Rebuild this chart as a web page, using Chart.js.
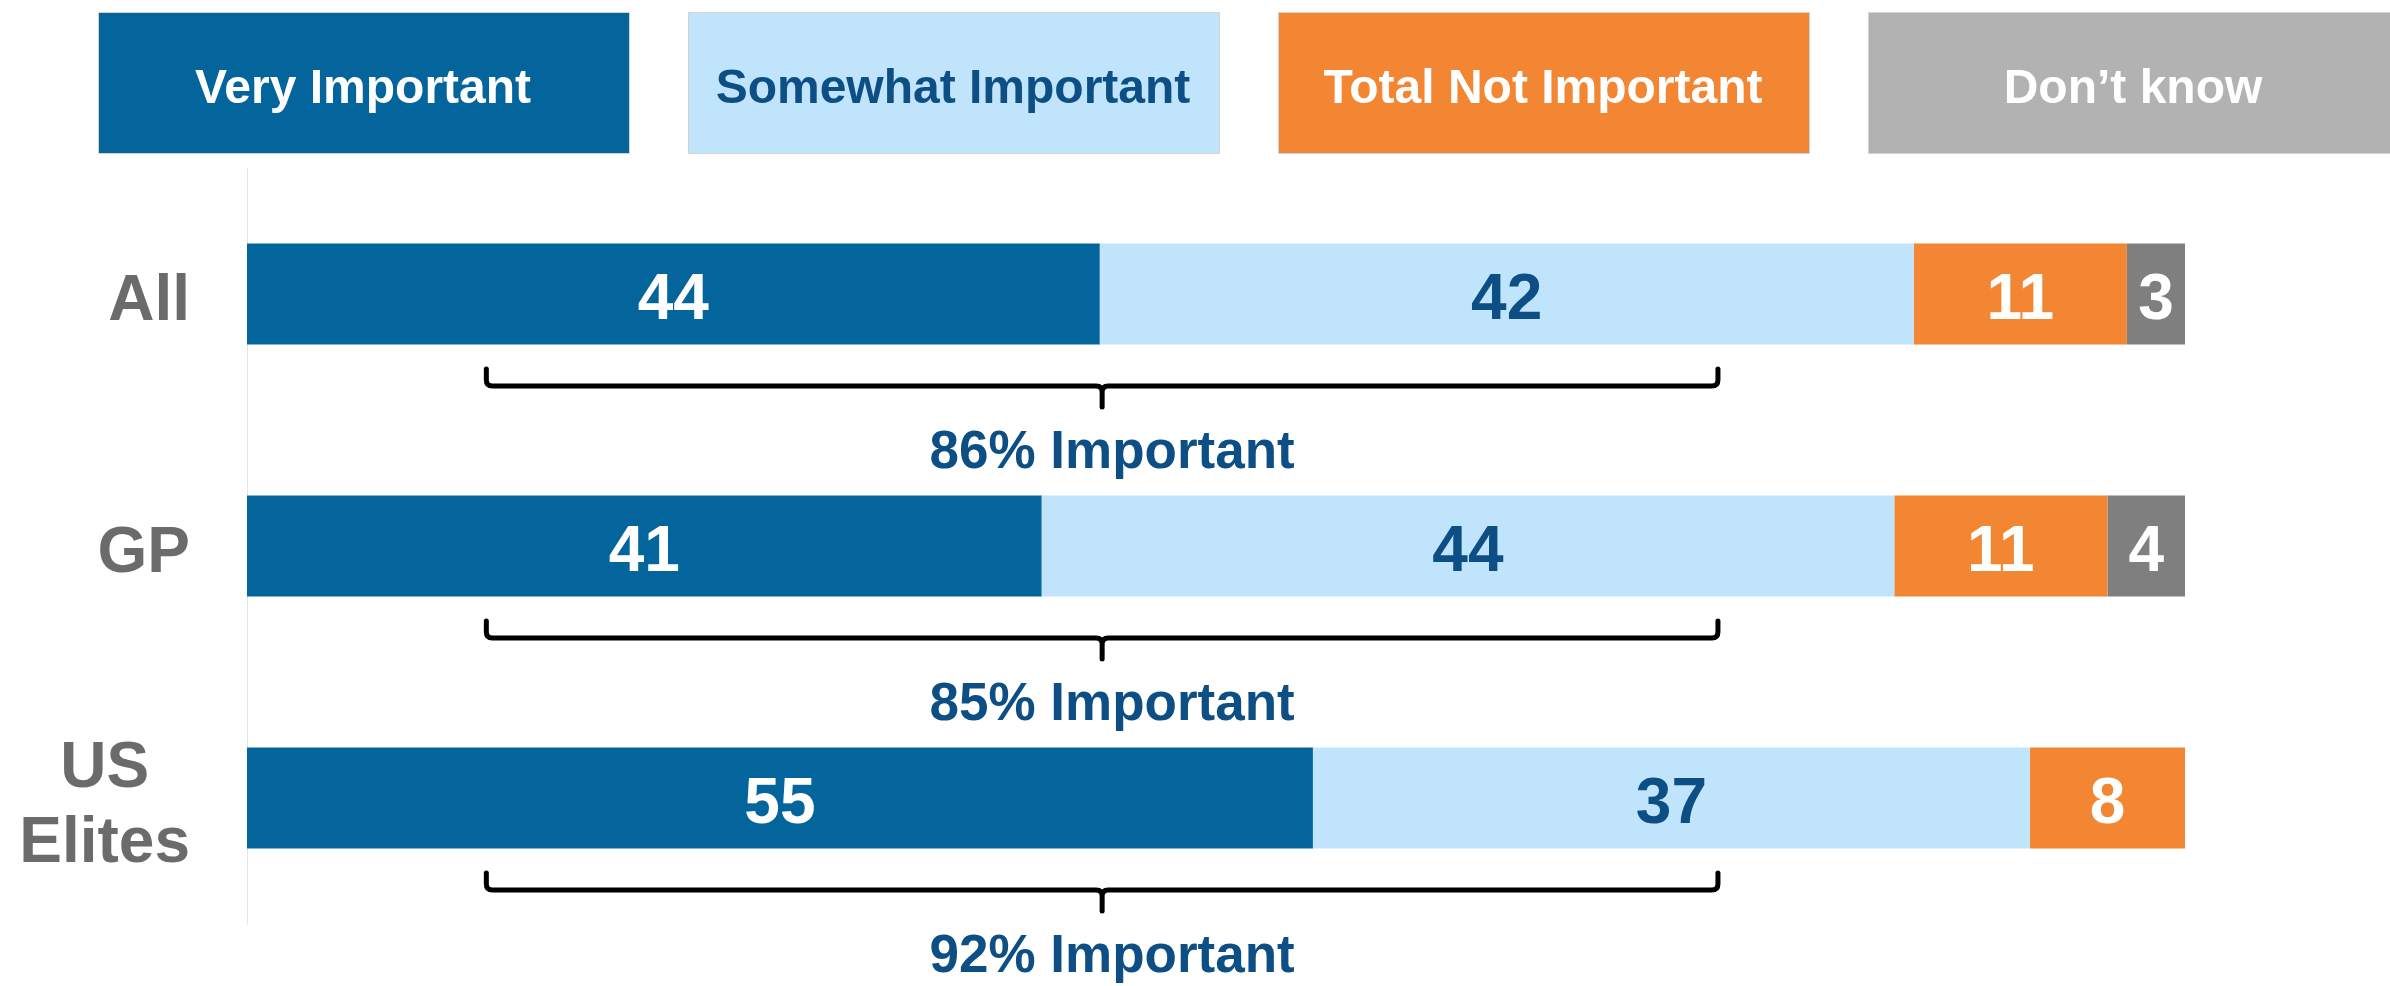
<!DOCTYPE html>
<html>
<head>
<meta charset="utf-8">
<script src="https://cdn.jsdelivr.net/npm/chart.js@4/dist/chart.umd.min.js"></script>
<style>
  html, body { margin: 0; background: #fff; }
  #wrap { width: 2390px; height: 986px; }
</style>
</head>
<body>
<div id="wrap"><canvas id="chart"></canvas></div>
<script>
const categories = [['All'], ['GP'], ['US', 'Elites']];
const seriesNames = ['Very Important', 'Somewhat Important', 'Total Not Important', 'Don’t know'];
const veryImportant = [44, 41, 55];
const somewhatImportant = [42, 44, 37];
const notImportant = [11, 11, 8];
const dontKnow = [3, 4, null];
// brace spans this range of the value axis under each bar
const braceFrom = 12.35;
const braceTo = 75.9;

const FONT = '"Liberation Sans", Arial, sans-serif';
const fills = ['#03659b', '#bfe4fb', '#f28633', '#7f7f7f'];
const legendFills = ['#03659b', '#bfe4fb', '#f28633', '#b2b2b2'];
const textColors = ['#ffffff', '#0d4f85', '#ffffff', '#ffffff'];

const seriesValues = [veryImportant, somewhatImportant, notImportant, dontKnow];

const legendBoxes = {
    id: 'legendBoxes',
    afterDraw(chart) {
        const ctx = chart.ctx;
        ctx.save();
        ctx.font = 'bold 48px ' + FONT;
        ctx.textAlign = 'center';
        ctx.textBaseline = 'alphabetic';
        seriesNames.forEach((name, i) => {
            const x = 98 + i * 590;
            ctx.fillStyle = legendFills[i];
            ctx.fillRect(x, 12, 531, 141);
            ctx.strokeStyle = '#d4d4d4';
            ctx.lineWidth = 1;
            ctx.strokeRect(x + 0.5, 12.5, 531, 141);
            ctx.fillStyle = textColors[i];
            ctx.fillText(name, x + 265, 103);
        });
        ctx.restore();
    },
};

const categoryLabels = {
    id: 'categoryLabels',
    afterDraw(chart) {
        const ctx = chart.ctx;
        const y = chart.scales.y;
        ctx.save();
        ctx.font = 'bold 64px ' + FONT;
        ctx.fillStyle = '#6b6b6b';
        ctx.textBaseline = 'alphabetic';
        categories.forEach((lines, i) => {
            const yc = y.getPixelForValue(i);
            const widest = Math.max(...lines.map(l => ctx.measureText(l).width));
            const cx = 190 - widest / 2;
            ctx.textAlign = 'center';
            lines.forEach((line, j) => {
                ctx.fillText(line, cx, yc + 26 + (j - (lines.length - 1) / 2) * 75);
            });
        });
        ctx.restore();
    },
};

const valueLabels = {
    id: 'valueLabels',
    afterDatasetsDraw(chart) {
        const ctx = chart.ctx;
        ctx.save();
        ctx.font = 'bold 64px ' + FONT;
        ctx.textAlign = 'center';
        ctx.textBaseline = 'alphabetic';
        chart.data.datasets.forEach((ds, di) => {
            chart.getDatasetMeta(di).data.forEach((bar, i) => {
                const v = ds.data[i];
                if (v == null) return;
                const p = bar.getCenterPoint();
                ctx.fillStyle = textColors[di];
                ctx.fillText(String(v), p.x, p.y + 25);
            });
        });
        ctx.restore();
    },
};

const importantBraces = {
    id: 'importantBraces',
    afterDatasetsDraw(chart) {
        const ctx = chart.ctx;
        const xs = chart.scales.x;
        const ys = chart.scales.y;
        const x0 = xs.getPixelForValue(braceFrom);
        const x1 = xs.getPixelForValue(braceTo);
        const xm = (x0 + x1) / 2;
        const r = 6;
        ctx.save();
        categories.forEach((_, i) => {
            const yc = ys.getPixelForValue(i);
            const line = yc + 92;
            const top = line - 17;
            const tip = line + 21;
            ctx.strokeStyle = '#000';
            ctx.lineWidth = 5;
            ctx.lineCap = 'round';
            ctx.lineJoin = 'round';
            ctx.beginPath();
            ctx.moveTo(x0, top);
            ctx.lineTo(x0, line - r);
            ctx.quadraticCurveTo(x0, line, x0 + r, line);
            ctx.lineTo(xm - r, line);
            ctx.quadraticCurveTo(xm, line, xm, line + r);
            ctx.lineTo(xm, tip);
            ctx.moveTo(xm, line + r);
            ctx.quadraticCurveTo(xm, line, xm + r, line);
            ctx.lineTo(x1 - r, line);
            ctx.quadraticCurveTo(x1, line, x1, line - r);
            ctx.lineTo(x1, top);
            ctx.stroke();

            const total = veryImportant[i] + somewhatImportant[i];
            ctx.font = 'bold 53px ' + FONT;
            ctx.fillStyle = '#0d4f85';
            ctx.textAlign = 'center';
            ctx.textBaseline = 'alphabetic';
            ctx.fillText(total + '% Important', xm + 10, yc + 174);
        });
        ctx.restore();
    },
};

new Chart(document.getElementById('chart'), {
    type: 'bar',
    data: {
        labels: categories,
        datasets: seriesNames.map((name, i) => ({
            label: name,
            data: seriesValues[i],
            backgroundColor: fills[i],
            borderWidth: 0,
            categoryPercentage: 1,
            barPercentage: 0.4,
        })),
    },
    options: {
        indexAxis: 'y',
        responsive: true,
        maintainAspectRatio: false,
        animation: false,
        layout: {
            padding: { top: 168, bottom: 62, left: 0, right: 205 },
        },
        plugins: {
            legend: { display: false },
            tooltip: { enabled: false },
        },
        scales: {
            x: {
                stacked: true,
                min: 0,
                max: 100,
                display: false,
            },
            y: {
                stacked: true,
                grid: { display: false },
                border: { display: true, color: '#e6e6e6', width: 1 },
                ticks: { display: false },
                afterFit(scale) {
                    scale.width = 247;
                },
            },
        },
    },
    plugins: [legendBoxes, categoryLabels, valueLabels, importantBraces],
});
</script>
</body>
</html>
